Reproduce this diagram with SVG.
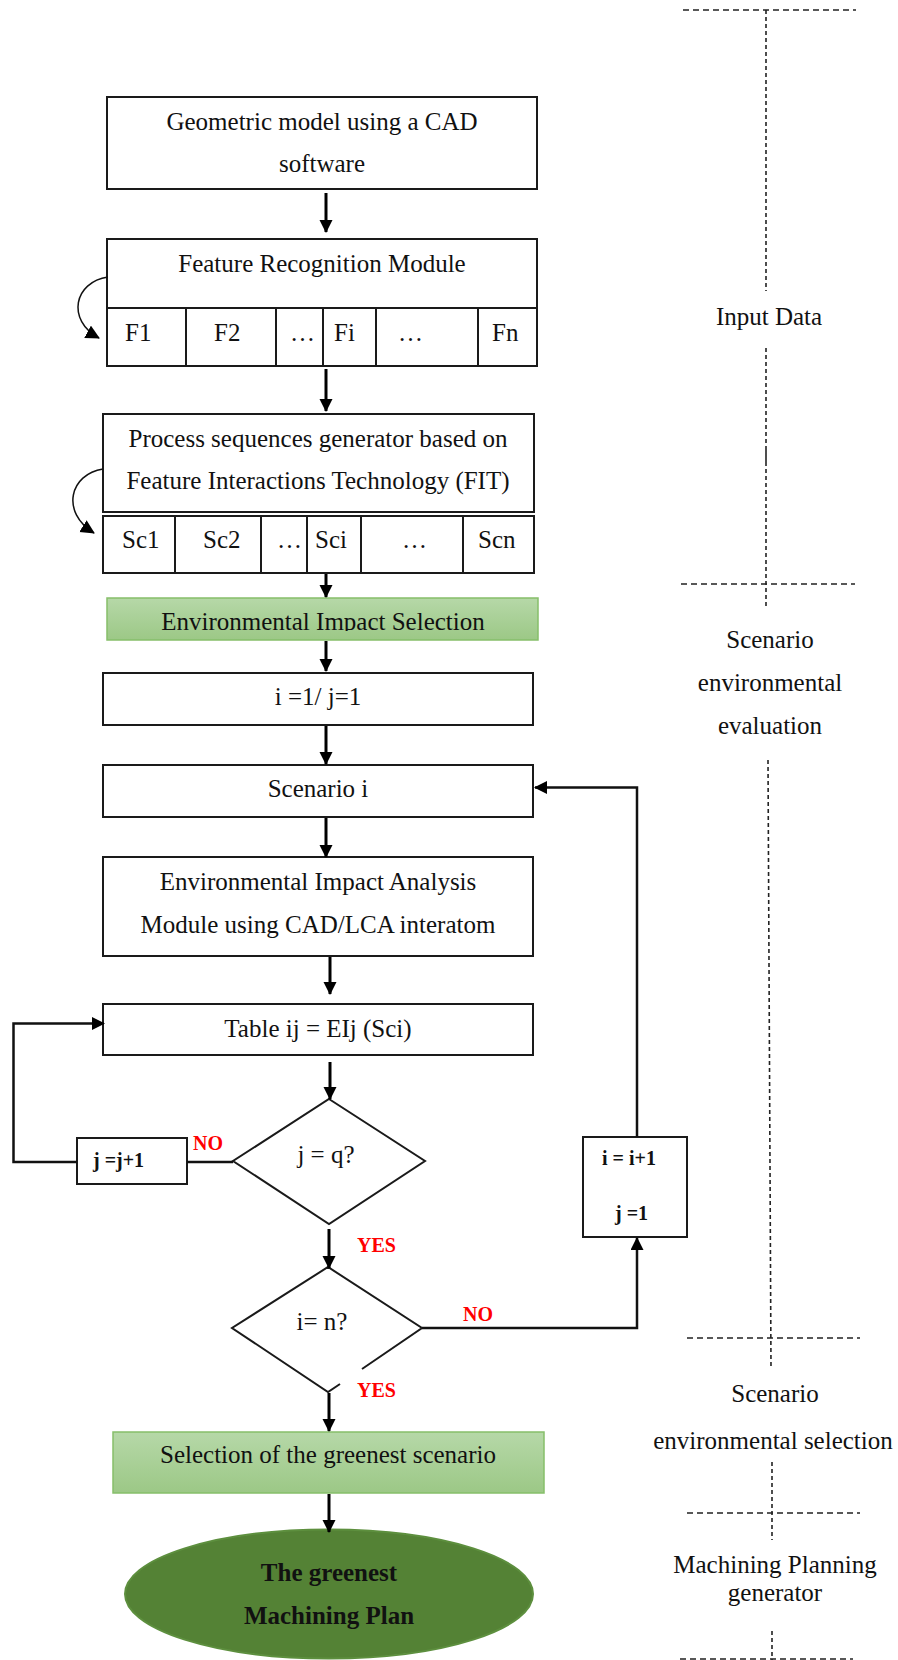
<svg xmlns="http://www.w3.org/2000/svg" width="898" height="1660" viewBox="0 0 898 1660">
<style>
.box{fill:#fff;stroke:#1a1a1a;stroke-width:2}
.t{font-family:"Liberation Serif","Times New Roman",serif;font-size:25px;fill:#111}
.c{text-anchor:middle}
.b{font-weight:bold}
.red{font-family:"Liberation Serif","Times New Roman",serif;font-size:20px;font-weight:bold;fill:#ff0000}
.sm{font-size:20px}
.ar{fill:none;stroke:#000;stroke-width:3}
.ln{fill:none;stroke:#111;stroke-width:2.5}
.cv{fill:none;stroke:#111;stroke-width:1.5}
.dh{fill:none;stroke:#222;stroke-width:1.6;stroke-dasharray:6,4}
.dv{fill:none;stroke:#222;stroke-width:1.6;stroke-dasharray:4,3}
.green{fill:url(#gg);stroke:#86bf6a;stroke-width:1.5}
</style>
<defs>
<marker id="ah" markerUnits="userSpaceOnUse" markerWidth="14" markerHeight="14" refX="12" refY="6.5" orient="auto">
<path d="M0,0 L13,6.5 L0,13 z" fill="#000"/>
</marker>
<marker id="ahs" markerUnits="userSpaceOnUse" markerWidth="16" markerHeight="16" refX="13" refY="7" orient="auto">
<path d="M0,0 L14,7 L0,14 z" fill="#000"/>
</marker>
<linearGradient id="gg" x1="0" y1="0" x2="0" y2="1">
<stop offset="0" stop-color="#b6d8a8"/>
<stop offset="1" stop-color="#9cc886"/>
</linearGradient>
<clipPath id="clipEIS"><rect x="100" y="595" width="445" height="36"/></clipPath>
</defs>

<g id="geometric-model">
<rect class="box" x="107" y="97" width="430" height="92"/>
<text class="t c" x="322" y="130">Geometric model using a CAD</text>
<text class="t c" x="322" y="172">software</text>
</g>

<g id="feature-recognition">
<rect class="box" x="107" y="239" width="430" height="69"/>
<text class="t c" x="322" y="272">Feature Recognition Module</text>
<rect class="box" x="107" y="308" width="430" height="58"/>
<path class="box" d="M186,308 V366 M276,308 V366 M323,308 V366 M376,308 V366 M478,308 V366"/>
<text class="t" x="125" y="341">F1</text>
<text class="t" x="214" y="341">F2</text>
<text class="t" x="290" y="341">…</text>
<text class="t" x="334" y="341">Fi</text>
<text class="t" x="398" y="341">…</text>
<text class="t" x="492" y="341">Fn</text>
</g>

<g id="process-sequences">
<rect class="box" x="103" y="414" width="431" height="98"/>
<text class="t c" x="318" y="447">Process sequences generator based on</text>
<text class="t c" x="318" y="489">Feature Interactions Technology (FIT)</text>
<rect class="box" x="103" y="516" width="431" height="57"/>
<path class="box" d="M175,516 V573 M261,516 V573 M307,516 V573 M361,516 V573 M463,516 V573"/>
<text class="t" x="122" y="548">Sc1</text>
<text class="t" x="203" y="548">Sc2</text>
<text class="t" x="277" y="548">…</text>
<text class="t" x="315" y="548">Sci</text>
<text class="t" x="402" y="548">…</text>
<text class="t" x="478" y="548">Scn</text>
</g>

<g id="env-impact-selection">
<rect class="green" x="107" y="598" width="431" height="42"/>
<text class="t c" x="323" y="630" clip-path="url(#clipEIS)">Environmental Impact Selection</text>
</g>

<g id="init">
<rect class="box" x="103" y="673" width="430" height="52"/>
<text class="t c" x="318" y="705">i =1/ j=1</text>
</g>

<g id="scenario-i">
<rect class="box" x="103" y="765" width="430" height="52"/>
<text class="t c" x="318" y="797">Scenario i</text>
</g>

<g id="eia-module">
<rect class="box" x="103" y="857" width="430" height="99"/>
<text class="t c" x="318" y="890">Environmental Impact Analysis</text>
<text class="t c" x="318" y="933">Module using CAD/LCA interatom</text>
</g>

<g id="table">
<rect class="box" x="103" y="1004" width="430" height="51"/>
<text class="t c" x="318" y="1037">Table ij = EIj (Sci)</text>
</g>

<g id="decision-j">
<path class="box" d="M329,1099 L425,1161 L329,1224 L233,1161 Z"/>
<text class="t c" x="326" y="1163">j = q?</text>
</g>

<g id="j-increment">
<rect class="box" x="77" y="1138" width="110" height="46"/>
<text class="t b sm" x="93" y="1167">j =j+1</text>
</g>

<g id="decision-i">
<path class="box" d="M340,1384 L328,1392 L232,1328 L328,1267 L422,1328 L362,1369" fill="#fff"/>
<text class="t c" x="322" y="1330">i= n?</text>
</g>

<g id="i-increment">
<rect class="box" x="583" y="1137" width="104" height="100"/>
<text class="t b sm" x="602" y="1165">i = i+1</text>
<text class="t b sm" x="615" y="1220">j =1</text>
</g>

<g id="greenest-selection">
<rect class="green" x="113" y="1432" width="431" height="61"/>
<text class="t c" x="328" y="1463">Selection of the greenest scenario</text>
</g>

<g id="greenest-plan">
<ellipse cx="329" cy="1594" rx="204" ry="64.5" fill="#548235" stroke="#5d8f3e" stroke-width="2"/>
<text class="t c b" x="329" y="1581">The greenest</text>
<text class="t c b" x="329" y="1624">Machining Plan</text>
</g>

<g id="connectors">
<line class="ar" x1="326" y1="193" x2="326" y2="232" marker-end="url(#ah)"/>
<line class="ar" x1="326" y1="369" x2="326" y2="411" marker-end="url(#ah)"/>
<line class="ar" x1="326" y1="574" x2="326" y2="597" marker-end="url(#ah)"/>
<line class="ar" x1="326" y1="641" x2="326" y2="671" marker-end="url(#ah)"/>
<line class="ar" x1="326" y1="726" x2="326" y2="764" marker-end="url(#ah)"/>
<line class="ar" x1="326" y1="818" x2="326" y2="857" marker-end="url(#ah)"/>
<line class="ar" x1="330" y1="957" x2="330" y2="994" marker-end="url(#ah)"/>
<line class="ar" x1="330" y1="1062" x2="330" y2="1099" marker-end="url(#ah)"/>
<line class="ar" x1="329" y1="1229" x2="329" y2="1268" marker-end="url(#ah)"/>
<line class="ar" x1="329" y1="1393" x2="329" y2="1431" marker-end="url(#ah)"/>
<line class="ar" x1="329" y1="1494" x2="329" y2="1532" marker-end="url(#ah)"/>
<path class="ln" d="M77,1162 H13.5 V1023.5 H104" marker-end="url(#ah)"/>
<path class="ln" d="M187,1162 H233"/>
<path class="ln" d="M422,1328 H637 V1238" marker-end="url(#ah)"/>
<path class="ln" d="M637,1137 V787.5 H535" marker-end="url(#ah)"/>
<path class="cv" d="M108,277 C74,282 66,320 99,338" marker-end="url(#ahs)"/>
<path class="cv" d="M103,469 C70,474 60,512 94,533" marker-end="url(#ahs)"/>
<text class="red" x="193" y="1150">NO</text>
<text class="red" x="357" y="1252">YES</text>
<text class="red" x="463" y="1321">NO</text>
<text class="red" x="357" y="1397">YES</text>
</g>

<g id="phases">
<path class="dh" d="M683,10 H856"/>
<path class="dv" d="M766,10 V291"/>
<text class="t c" x="769" y="325">Input Data</text>
<path class="dv" d="M766,348 V446"/>
<path d="M766,446 V462" stroke="#222" stroke-width="1.6"/>
<path class="dv" d="M766,462 V608"/>
<path class="dh" d="M681,584 H855"/>
<text class="t c" x="770" y="648">Scenario</text>
<text class="t c" x="770" y="691">environmental</text>
<text class="t c" x="770" y="734">evaluation</text>
<path class="dv" d="M768,760 L771,1368"/>
<path class="dh" d="M687,1338 H860"/>
<text class="t c" x="775" y="1402">Scenario</text>
<text class="t c" x="773" y="1449">environmental selection</text>
<path class="dv" d="M772,1462 V1540"/>
<path class="dh" d="M687,1513 H860"/>
<text class="t c" x="775" y="1573">Machining Planning</text>
<text class="t c" x="775" y="1601">generator</text>
<path class="dv" d="M772,1631 V1660" stroke="#666"/>
<path class="dh" d="M680,1659 H853" stroke="#999"/>
</g>
</svg>
